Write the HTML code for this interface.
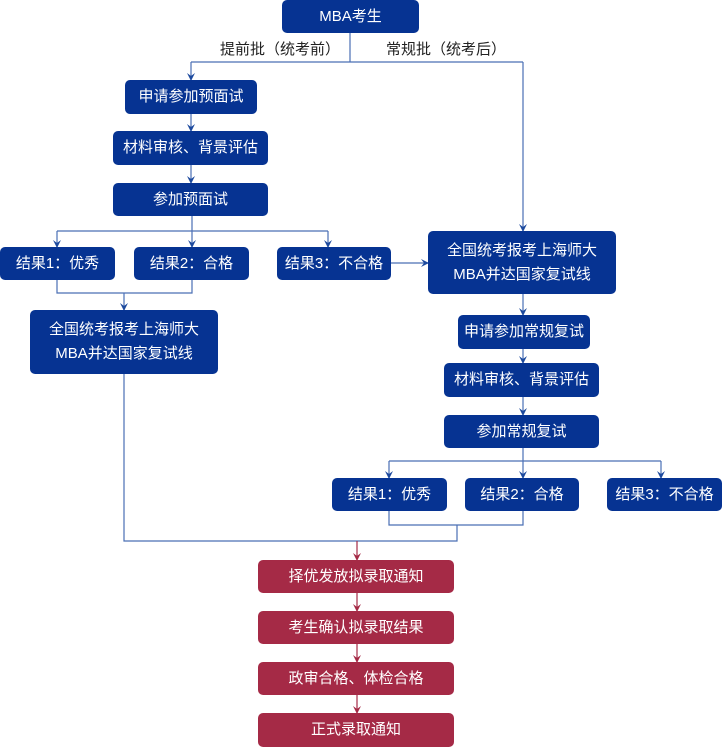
<!DOCTYPE html>
<html><head><meta charset="utf-8"><style>
body{margin:0;width:722px;height:747px;background:#fff;position:relative;overflow:hidden;font-family:"Liberation Sans","Noto Sans CJK SC",sans-serif}
.b{position:absolute;background:#063392;color:#fff;border-radius:5px;display:flex;align-items:center;justify-content:center;text-align:center;font-size:15px;line-height:24px}
.r{background:#a52a46}
.l{position:absolute;font-size:15px;color:#222}
svg{position:absolute;left:0;top:0}
</style></head><body>
<svg width="722" height="747">
<defs>
<marker id="A" markerWidth="8" markerHeight="8" refX="4" refY="7" markerUnits="userSpaceOnUse" viewBox="0 0 8 8"><path d="M0,0 L4,8 L8,0 L4,3z" fill="#1d4a9e"/></marker>
<marker id="R" markerWidth="8" markerHeight="8" refX="4" refY="7" markerUnits="userSpaceOnUse" viewBox="0 0 8 8"><path d="M0,0 L4,8 L8,0 L4,3z" fill="#a52a46"/></marker>
<marker id="H" markerWidth="8" markerHeight="8" refX="7" refY="4" markerUnits="userSpaceOnUse" viewBox="0 0 8 8"><path d="M0,0 L8,4 L0,8 L3,4z" fill="#1d4a9e"/></marker>
</defs>
<g stroke="#4a6fb5" stroke-width="1.2" fill="none">
<path d="M350,33V62"/>
<path d="M191,62H523"/>
<path d="M191,62V80" marker-end="url(#A)"/>
<path d="M523,62V231" marker-end="url(#A)"/>
<path d="M191,114V131" marker-end="url(#A)"/>
<path d="M191,165V183" marker-end="url(#A)"/>
<path d="M192,216V247" marker-end="url(#A)"/>
<path d="M57,231H328"/>
<path d="M57,231V247" marker-end="url(#A)"/>
<path d="M328,231V247" marker-end="url(#A)"/>
<path d="M57,280V293H192V280"/>
<path d="M124,293V310" marker-end="url(#A)"/>
<path d="M391,263H428" marker-end="url(#H)"/>
<path d="M523,294V315" marker-end="url(#A)"/>
<path d="M523,349V363" marker-end="url(#A)"/>
<path d="M523,397V415" marker-end="url(#A)"/>
<path d="M523,448V478" marker-end="url(#A)"/>
<path d="M389,461H661"/>
<path d="M389,461V478" marker-end="url(#A)"/>
<path d="M661,461V478" marker-end="url(#A)"/>
<path d="M389,511V525H523V511"/>
<path d="M457,525V541H124V374"/>
</g>
<g stroke="#a52a46" stroke-width="1.2" fill="none">
<path d="M357,541V560" marker-end="url(#R)"/>
<path d="M357,593V611" marker-end="url(#R)"/>
<path d="M357,644V662" marker-end="url(#R)"/>
<path d="M357,695V713" marker-end="url(#R)"/>
</g>
</svg>
<div class="l" style="left:220px;top:38px">提前批（统考前）</div>
<div class="l" style="left:386px;top:38px">常规批（统考后）</div>
<div class="b" style="left:282px;top:0;width:137px;height:33px">MBA考生</div>
<div class="b" style="left:125px;top:80px;width:132px;height:34px">申请参加预面试</div>
<div class="b" style="left:113px;top:131px;width:155px;height:34px">材料审核、背景评估</div>
<div class="b" style="left:113px;top:183px;width:155px;height:33px">参加预面试</div>
<div class="b" style="left:0;top:247px;width:115px;height:33px">结果1：优秀</div>
<div class="b" style="left:134px;top:247px;width:115px;height:33px">结果2：合格</div>
<div class="b" style="left:277px;top:247px;width:114px;height:33px">结果3：不合格</div>
<div class="b" style="left:428px;top:231px;width:188px;height:63px">全国统考报考上海师大<br>MBA并达国家复试线</div>
<div class="b" style="left:30px;top:310px;width:188px;height:64px">全国统考报考上海师大<br>MBA并达国家复试线</div>
<div class="b" style="left:458px;top:315px;width:132px;height:34px">申请参加常规复试</div>
<div class="b" style="left:444px;top:363px;width:155px;height:34px">材料审核、背景评估</div>
<div class="b" style="left:444px;top:415px;width:155px;height:33px">参加常规复试</div>
<div class="b" style="left:332px;top:478px;width:115px;height:33px">结果1：优秀</div>
<div class="b" style="left:465px;top:478px;width:114px;height:33px">结果2：合格</div>
<div class="b" style="left:607px;top:478px;width:115px;height:33px">结果3：不合格</div>
<div class="b r" style="left:258px;top:560px;width:196px;height:33px">择优发放拟录取通知</div>
<div class="b r" style="left:258px;top:611px;width:196px;height:33px">考生确认拟录取结果</div>
<div class="b r" style="left:258px;top:662px;width:196px;height:33px">政审合格、体检合格</div>
<div class="b r" style="left:258px;top:713px;width:196px;height:34px">正式录取通知</div>
</body></html>
